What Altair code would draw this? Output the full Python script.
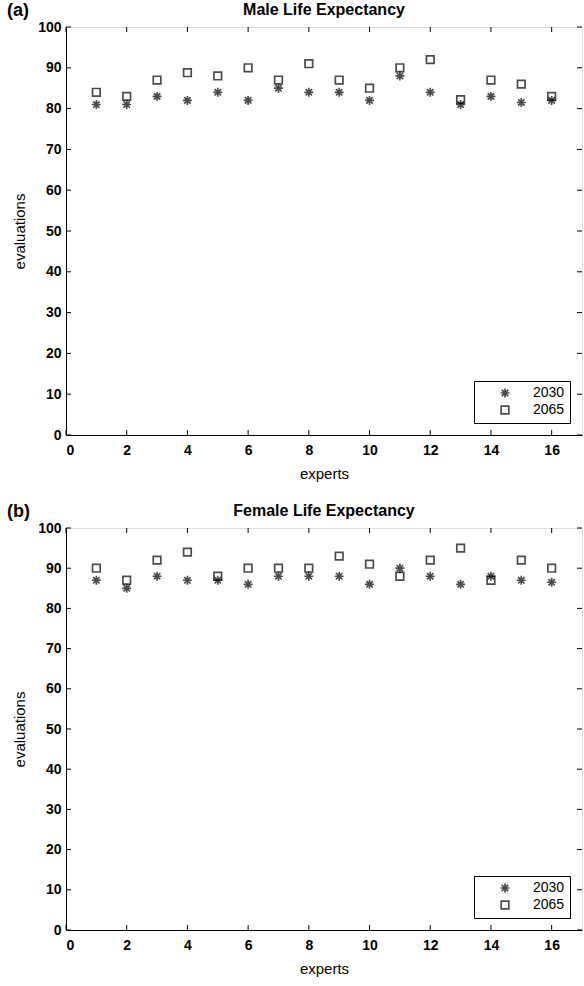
import altair as alt
import pandas as pd

experts = list(range(1, 17))
male_2030 = [81, 81, 83, 82, 84, 82, 85, 84, 84, 82, 88, 84, 81, 83, 81.5, 82]
male_2065 = [84, 83, 87, 88.8, 88, 90, 87, 91, 87, 85, 90, 92, 82.2, 87, 86, 83]
female_2030 = [87, 85, 88, 87, 87, 86, 88, 88, 88, 86, 90, 88, 86, 88, 87, 86.5]
female_2065 = [90, 87, 92, 94, 88, 90, 90, 90, 93, 91, 88, 92, 95, 87, 92, 90]
years = ["2030", "2065"]
x_ticks = [0, 2, 4, 6, 8, 10, 12, 14, 16]
y_ticks = [0, 10, 20, 30, 40, 50, 60, 70, 80, 90, 100]

ASTERISK = "M0,-1L0,1M-1,0L1,0M-0.72,-0.72L0.72,0.72M-0.72,0.72L0.72,-0.72"
SQUARE = "M-0.85,-0.85L0.85,-0.85L0.85,0.85L-0.85,0.85Z"

W = 516
FONT = "Liberation Sans"

def frame(a, b):
    rows = []
    for e, v in zip(experts, a):
        rows.append({"experts": e, "evaluations": v, "year": years[0]})
    for e, v in zip(experts, b):
        rows.append({"experts": e, "evaluations": v, "year": years[1]})
    return pd.DataFrame(rows)

xs = alt.Scale(domain=[0, 17], nice=False)
ys = alt.Scale(domain=[0, 100], nice=False)

AX = dict(grid=False, ticks=False, format="d", labelOverlap=False,
          labelFont=FONT, labelFontSize=14, labelFontWeight="bold", labelColor="black",
          titleFont=FONT, titleFontSize=15, titleFontWeight="normal", titleColor="black",
          domainColor="black")
XA = alt.Axis(values=x_ticks, title="experts", labelPadding=8, titlePadding=9, **AX)
YA = alt.Axis(values=y_ticks, title="evaluations", labelPadding=5, titlePadding=10, **AX)

def panel(df, title, tag, H):
    base = alt.Chart(df).mark_point(filled=False, size=80, strokeWidth=1.7, color="black").encode(
        x=alt.X("experts:Q", scale=xs, axis=XA),
        y=alt.Y("evaluations:Q", scale=ys, axis=YA),
        shape=alt.Shape("year:N", scale=alt.Scale(domain=years, range=[ASTERISK, SQUARE]),
                        legend=alt.Legend(title=None, orient="bottom-right", strokeColor="black",
                                          fillColor="white", padding=5, symbolSize=80,
                                          symbolStrokeColor="black", symbolStrokeWidth=1.7,
                                          labelFontSize=14, labelFont=FONT, rowPadding=1,
                                          symbolOffset=19, labelOffset=21, labelColor="black",
                                          offset=12, symbolFillColor="transparent")),
    )
    xt = pd.DataFrame({"v": x_ticks})
    yt = pd.DataFrame({"v": y_ticks})
    tb = alt.Chart(xt).mark_rule(color="black", strokeWidth=1).encode(
        x=alt.X("v:Q", scale=xs, axis=XA), y=alt.value(H), y2=alt.value(H - 5))
    tt = alt.Chart(xt).mark_rule(color="black", strokeWidth=1).encode(
        x=alt.X("v:Q", scale=xs, axis=XA), y=alt.value(0), y2=alt.value(5))
    tl = alt.Chart(yt).mark_rule(color="black", strokeWidth=1).encode(
        y=alt.Y("v:Q", scale=ys, axis=YA), x=alt.value(0), x2=alt.value(5))
    tr = alt.Chart(yt).mark_rule(color="black", strokeWidth=1).encode(
        y=alt.Y("v:Q", scale=ys, axis=YA), x=alt.value(W), x2=alt.value(W - 5))
    lab = alt.Chart(pd.DataFrame({"t": [tag]})).mark_text(
        font=FONT, fontSize=18, fontWeight="bold", align="left", baseline="middle"
    ).encode(text="t:N", x=alt.value(-59), y=alt.value(-16))
    ttl = alt.Chart(pd.DataFrame({"t": [title]})).mark_text(
        font=FONT, fontSize=16, fontWeight="bold", align="center", baseline="middle"
    ).encode(text="t:N", x=alt.value(W / 2), y=alt.value(-17))
    return alt.layer(base, tb, tt, tl, tr, lab, ttl).properties(width=W, height=H)

chart = alt.vconcat(
    panel(frame(male_2030, male_2065), "Male Life Expectancy", "(a)", 408),
    panel(frame(female_2030, female_2065), "Female Life Expectancy", "(b)", 402),
    spacing=20,
).resolve_scale(shape="independent").configure_view(
    stroke="black", strokeWidth=1.2
).configure(padding={"left": 6, "top": 1, "right": 1, "bottom": 2}, background="white")

chart.save("out.html", embed_options={"renderer": "svg", "actions": False})
